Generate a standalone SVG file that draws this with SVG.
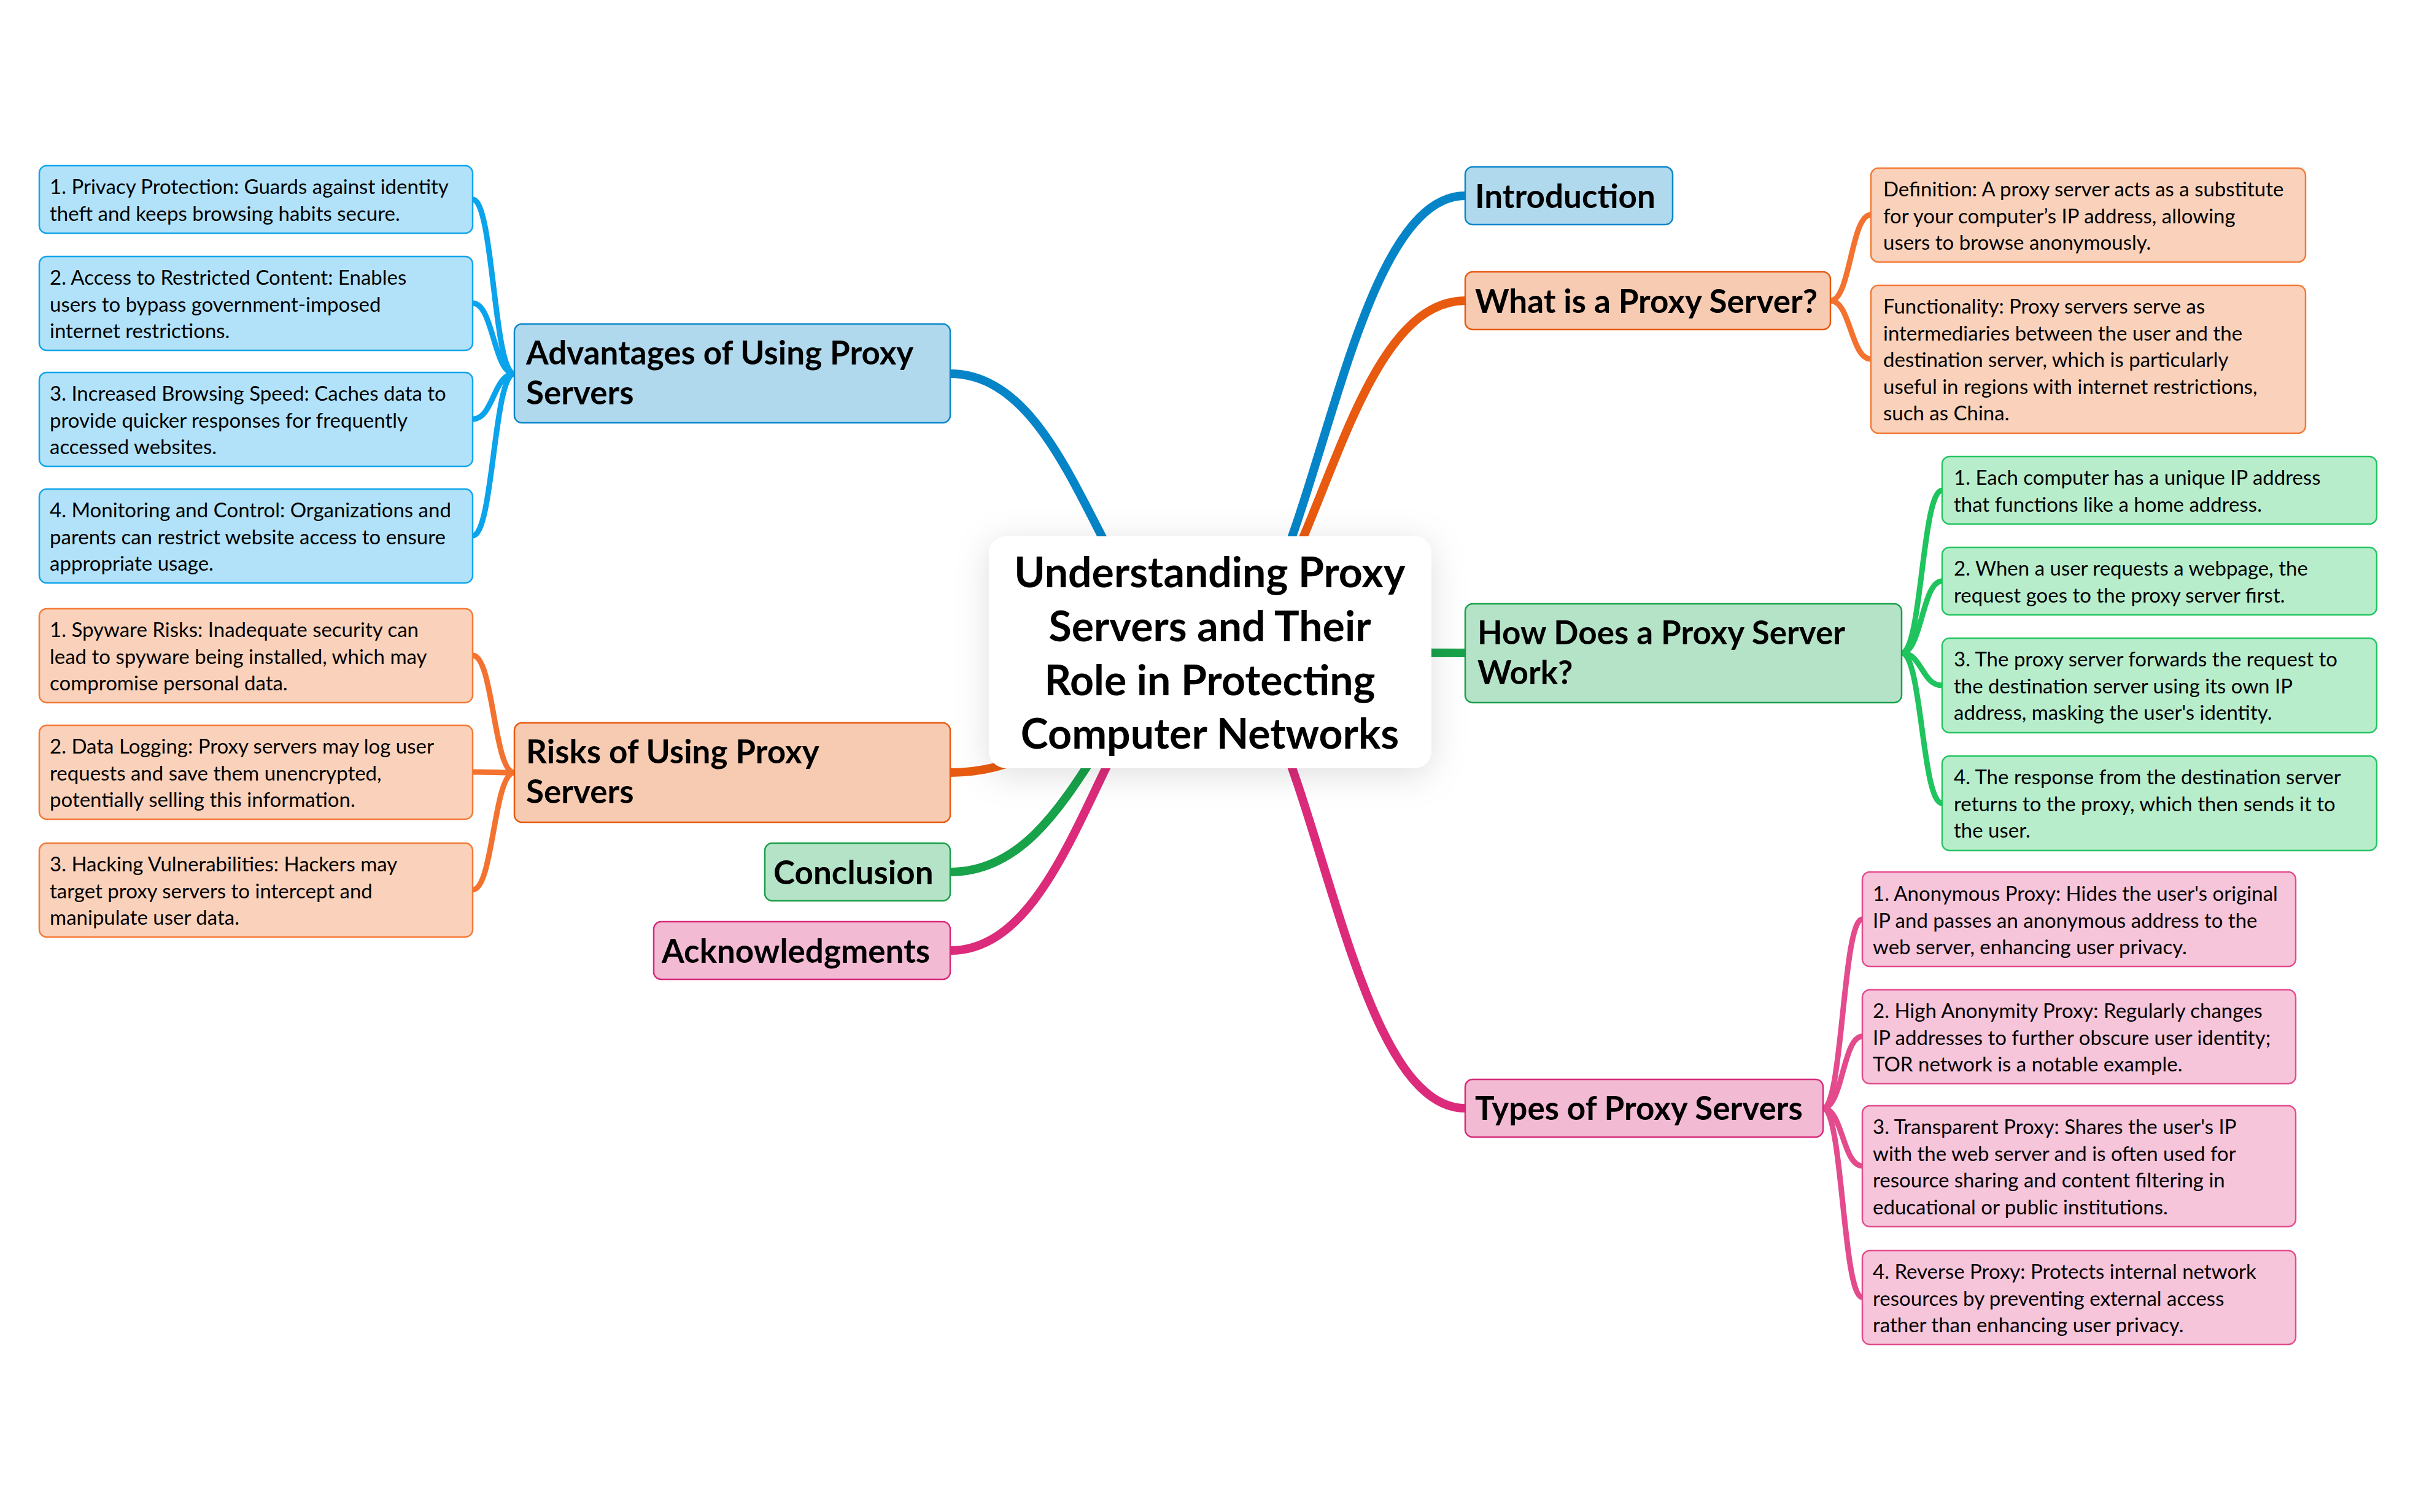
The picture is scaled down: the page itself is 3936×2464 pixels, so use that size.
<svg xmlns="http://www.w3.org/2000/svg" width="3936" height="2464" viewBox="0 0 3936 2464">
<style>
text{font-family:Lato,"Open Sans","Liberation Sans",sans-serif;fill:#000}
.tr{font-size:68px;font-weight:700;text-anchor:middle}
.tm{font-size:53px;font-weight:700}
.ts{font-size:33px;font-weight:400}
.c{fill:none;stroke-linecap:round}
.cm{stroke-width:14}
.cs{stroke-width:9}
.b1{fill:#b0d9ee;stroke:#0b86c9;stroke-width:2.5}
.b2{fill:#b2e2f9;stroke:#12a5ec;stroke-width:2.5}
.o1{fill:#f7cbb2;stroke:#e85a10;stroke-width:2.5}
.o2{fill:#fad2bb;stroke:#f47a36;stroke-width:2.5}
.g1{fill:#b5e3c7;stroke:#19a04a;stroke-width:2.5}
.g2{fill:#b8edcc;stroke:#24c560;stroke-width:2.5}
.p1{fill:#f3bad4;stroke:#d72a7a;stroke-width:2.5}
.p2{fill:#f6c5da;stroke:#e34d8e;stroke-width:2.5}
</style>
<defs>
<filter id="sh" x="-30%" y="-30%" width="160%" height="160%">
<feDropShadow dx="0" dy="10" stdDeviation="28" flood-color="#000" flood-opacity="0.13"/>
</filter>
</defs>
<rect width="3936" height="2464" fill="#fff"/>
<g id="connectors">
<path class="c cm" stroke="#0585c8" d="M1971 1063 C2137 1063 2179 319 2387 319"/>
<path class="c cm" stroke="#e85a0f" d="M1971 1063 C2137 1063 2179 490 2387 490"/>
<path class="c cm" stroke="#18a24a" d="M1971 1063 C2137 1063 2179 1064 2387 1064"/>
<path class="c cm" stroke="#dc2b7b" d="M1971 1063 C2137 1063 2179 1806 2387 1806"/>
<path class="c cm" stroke="#0585c8" d="M1971 1063 C1802 1063 1760 609 1548 609"/>
<path class="c cm" stroke="#e85a0f" d="M1971 1063 C1802 1063 1760 1259 1548 1259"/>
<path class="c cm" stroke="#18a24a" d="M1971 1063 C1802 1063 1760 1421 1548 1421"/>
<path class="c cm" stroke="#dc2b7b" d="M1971 1063 C1802 1063 1760 1549 1548 1549"/>
<path class="c cs" stroke="#f4722f" d="M2982 490 C3015 490 3015 350 3048 350"/>
<path class="c cs" stroke="#f4722f" d="M2982 490 C3015 490 3015 585 3048 585"/>
<path class="c cs" stroke="#1fc45e" d="M3098 1064 C3131 1064 3131 799 3164 799"/>
<path class="c cs" stroke="#1fc45e" d="M3098 1064 C3131 1064 3131 947 3164 947"/>
<path class="c cs" stroke="#1fc45e" d="M3098 1064 C3131 1064 3131 1117 3164 1117"/>
<path class="c cs" stroke="#1fc45e" d="M3098 1064 C3131 1064 3131 1309 3164 1309"/>
<path class="c cs" stroke="#e34b8c" d="M2970 1806 C3002 1806 3002 1498 3034 1498"/>
<path class="c cs" stroke="#e34b8c" d="M2970 1806 C3002 1806 3002 1689 3034 1689"/>
<path class="c cs" stroke="#e34b8c" d="M2970 1806 C3002 1806 3002 1900 3034 1900"/>
<path class="c cs" stroke="#e34b8c" d="M2970 1806 C3002 1806 3002 2114 3034 2114"/>
<path class="c cs" stroke="#0aa3ec" d="M838 609 C804 609 804 325 770 325"/>
<path class="c cs" stroke="#0aa3ec" d="M838 609 C804 609 804 494 770 494"/>
<path class="c cs" stroke="#0aa3ec" d="M838 609 C804 609 804 683 770 683"/>
<path class="c cs" stroke="#0aa3ec" d="M838 609 C804 609 804 873 770 873"/>
<path class="c cs" stroke="#f4722f" d="M838 1259 C804 1259 804 1068 770 1068"/>
<path class="c cs" stroke="#f4722f" d="M838 1259 C804 1259 804 1258 770 1258"/>
<path class="c cs" stroke="#f4722f" d="M838 1259 C804 1259 804 1450 770 1450"/>
</g>
<g id="root">
<rect x="1611" y="874" width="721" height="378" rx="28" fill="#fff" filter="url(#sh)"/>
<text class="tr" x="1971" y="957">Understanding Proxy</text>
<text class="tr" x="1971" y="1045">Servers and Their</text>
<text class="tr" x="1971" y="1133">Role in Protecting</text>
<text class="tr" x="1971" y="1220">Computer Networks</text>
</g>
<g id="introduction"><rect class="b1" x="2387" y="272" width="338" height="94" rx="12"/><text class="tm" x="2403" y="339">Introduction</text></g>
<g id="what-is"><rect class="o1" x="2387" y="443" width="595" height="94" rx="12"/><text class="tm" x="2403" y="510">What is a Proxy Server?</text></g>
<g id="definition"><rect class="o2" x="3048" y="274" width="708" height="153" rx="12"/>
<text class="ts" x="3068" y="320">Definition: A proxy server acts as a substitute</text>
<text class="ts" x="3068" y="363.5">for your computer’s IP address, allowing</text>
<text class="ts" x="3068" y="407">users to browse anonymously.</text></g>
<g id="functionality"><rect class="o2" x="3048" y="465" width="708" height="241" rx="12"/>
<text class="ts" x="3068" y="511">Functionality: Proxy servers serve as</text>
<text class="ts" x="3068" y="554.5">intermediaries between the user and the</text>
<text class="ts" x="3068" y="598">destination server, which is particularly</text>
<text class="ts" x="3068" y="641.5">useful in regions with internet restrictions,</text>
<text class="ts" x="3068" y="685">such as China.</text></g>
<g id="how-does"><rect class="g1" x="2387" y="984" width="711" height="161" rx="12"/>
<text class="tm" x="2407" y="1050">How Does a Proxy Server</text>
<text class="tm" x="2407" y="1115">Work?</text></g>
<g id="how-1"><rect class="g2" x="3164" y="744" width="708" height="110" rx="12"/>
<text class="ts" x="3183" y="790">1. Each computer has a unique IP address</text>
<text class="ts" x="3183" y="833.5">that functions like a home address.</text></g>
<g id="how-2"><rect class="g2" x="3164" y="892" width="708" height="110" rx="12"/>
<text class="ts" x="3183" y="938">2. When a user requests a webpage, the</text>
<text class="ts" x="3183" y="981.5">request goes to the proxy server first.</text></g>
<g id="how-3"><rect class="g2" x="3164" y="1040" width="708" height="154" rx="12"/>
<text class="ts" x="3183" y="1086">3. The proxy server forwards the request to</text>
<text class="ts" x="3183" y="1129.5">the destination server using its own IP</text>
<text class="ts" x="3183" y="1173">address, masking the user's identity.</text></g>
<g id="how-4"><rect class="g2" x="3164" y="1232" width="708" height="154" rx="12"/>
<text class="ts" x="3183" y="1278">4. The response from the destination server</text>
<text class="ts" x="3183" y="1321.5">returns to the proxy, which then sends it to</text>
<text class="ts" x="3183" y="1365">the user.</text></g>
<g id="types"><rect class="p1" x="2387" y="1759" width="583" height="94" rx="12"/><text class="tm" x="2403" y="1825">Types of Proxy Servers</text></g>
<g id="types-1"><rect class="p2" x="3034" y="1421" width="706" height="154" rx="12"/>
<text class="ts" x="3051" y="1468">1. Anonymous Proxy: Hides the user's original</text>
<text class="ts" x="3051" y="1511.5">IP and passes an anonymous address to the</text>
<text class="ts" x="3051" y="1555">web server, enhancing user privacy.</text></g>
<g id="types-2"><rect class="p2" x="3034" y="1613" width="706" height="153" rx="12"/>
<text class="ts" x="3051" y="1659">2. High Anonymity Proxy: Regularly changes</text>
<text class="ts" x="3051" y="1702.5">IP addresses to further obscure user identity;</text>
<text class="ts" x="3051" y="1746">TOR network is a notable example.</text></g>
<g id="types-3"><rect class="p2" x="3034" y="1802" width="706" height="197" rx="12"/>
<text class="ts" x="3051" y="1848">3. Transparent Proxy: Shares the user's IP</text>
<text class="ts" x="3051" y="1891.5">with the web server and is often used for</text>
<text class="ts" x="3051" y="1935">resource sharing and content filtering in</text>
<text class="ts" x="3051" y="1978.5">educational or public institutions.</text></g>
<g id="types-4"><rect class="p2" x="3034" y="2038" width="706" height="153" rx="12"/>
<text class="ts" x="3051" y="2084">4. Reverse Proxy: Protects internal network</text>
<text class="ts" x="3051" y="2127.5">resources by preventing external access</text>
<text class="ts" x="3051" y="2171">rather than enhancing user privacy.</text></g>
<g id="advantages"><rect class="b1" x="838" y="528" width="710" height="161" rx="12"/>
<text class="tm" x="857" y="594">Advantages of Using Proxy</text>
<text class="tm" x="857" y="659">Servers</text></g>
<g id="adv-1"><rect class="b2" x="64" y="270" width="706" height="110" rx="12"/>
<text class="ts" x="81" y="316">1. Privacy Protection: Guards against identity</text>
<text class="ts" x="81" y="359.5">theft and keeps browsing habits secure.</text></g>
<g id="adv-2"><rect class="b2" x="64" y="418" width="706" height="153" rx="12"/>
<text class="ts" x="81" y="464">2. Access to Restricted Content: Enables</text>
<text class="ts" x="81" y="507.5">users to bypass government-imposed</text>
<text class="ts" x="81" y="551">internet restrictions.</text></g>
<g id="adv-3"><rect class="b2" x="64" y="607" width="706" height="153" rx="12"/>
<text class="ts" x="81" y="653">3. Increased Browsing Speed: Caches data to</text>
<text class="ts" x="81" y="696.5">provide quicker responses for frequently</text>
<text class="ts" x="81" y="740">accessed websites.</text></g>
<g id="adv-4"><rect class="b2" x="64" y="797" width="706" height="153" rx="12"/>
<text class="ts" x="81" y="843">4. Monitoring and Control: Organizations and</text>
<text class="ts" x="81" y="886.5">parents can restrict website access to ensure</text>
<text class="ts" x="81" y="930">appropriate usage.</text></g>
<g id="risks"><rect class="o1" x="838" y="1178" width="710" height="162" rx="12"/>
<text class="tm" x="857" y="1244">Risks of Using Proxy</text>
<text class="tm" x="857" y="1309">Servers</text></g>
<g id="risk-1"><rect class="o2" x="64" y="992" width="706" height="153" rx="12"/>
<text class="ts" x="81" y="1038">1. Spyware Risks: Inadequate security can</text>
<text class="ts" x="81" y="1081.5">lead to spyware being installed, which may</text>
<text class="ts" x="81" y="1125">compromise personal data.</text></g>
<g id="risk-2"><rect class="o2" x="64" y="1182" width="706" height="153" rx="12"/>
<text class="ts" x="81" y="1228">2. Data Logging: Proxy servers may log user</text>
<text class="ts" x="81" y="1271.5">requests and save them unencrypted,</text>
<text class="ts" x="81" y="1315">potentially selling this information.</text></g>
<g id="risk-3"><rect class="o2" x="64" y="1374" width="706" height="153" rx="12"/>
<text class="ts" x="81" y="1420">3. Hacking Vulnerabilities: Hackers may</text>
<text class="ts" x="81" y="1463.5">target proxy servers to intercept and</text>
<text class="ts" x="81" y="1507">manipulate user data.</text></g>
<g id="conclusion"><rect class="g1" x="1246" y="1374" width="302" height="94" rx="12"/><text class="tm" x="1260" y="1441">Conclusion</text></g>
<g id="acknowledgments"><rect class="p1" x="1065" y="1502" width="483" height="94" rx="12"/><text class="tm" x="1078" y="1569">Acknowledgments</text></g>
</svg>
